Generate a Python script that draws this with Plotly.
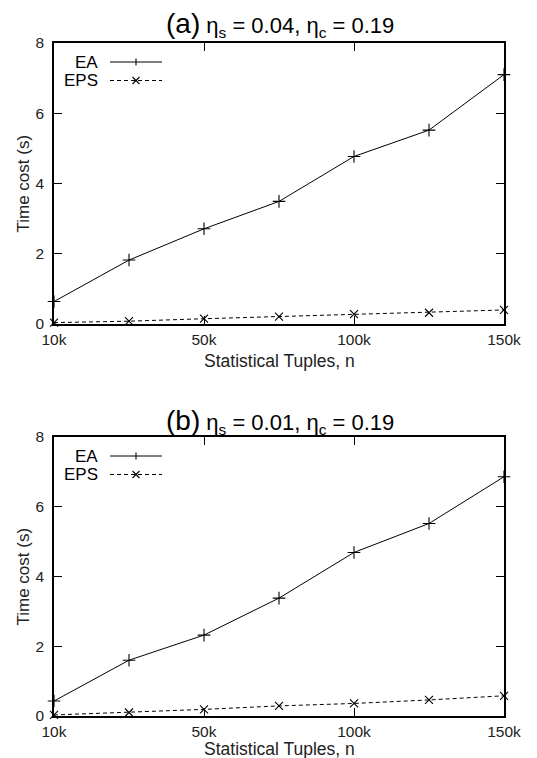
import plotly.graph_objects as go

W, H = 537, 758

# Data
n_labels = ["10k", "25k", "50k", "75k", "100k", "125k", "150k"]
tick_labels = ["10k", "50k", "100k", "150k"]
ea_a = [0.64, 1.82, 2.71, 3.49, 4.77, 5.52, 7.10]
eps_a = [0.04, 0.08, 0.15, 0.21, 0.28, 0.32, 0.40]
ea_b = [0.43, 1.60, 2.32, 3.38, 4.69, 5.52, 6.86]
eps_b = [0.03, 0.10, 0.19, 0.29, 0.36, 0.46, 0.58]
titles = ["(a)", "(b)"]
eta_s = ["0.04", "0.01"]
eta_c = ["0.19", "0.19"]
series_names = ["EA", "EPS"]
x_title = "Statistical Tuples, n"
y_title = "Time cost (s)"

FONT = "Liberation Sans, Arial, Helvetica, sans-serif"
TXT = "#222222"

def px(x):
    return x / W

def py(y):
    return 1 - y / H

# plot area pixel boxes: (left, right, top, bottom), title centre y, x-title centre y
boxes = [(54, 504, 43, 324), (54, 504, 437, 716)]
title_y = [24, 421]
xtitle_y = [361, 749]

fig = go.Figure()
shapes = []
annotations = []

panels = [(ea_a, eps_a), (ea_b, eps_b)]
for i, ((ea, eps), (l, r, t, b)) in enumerate(zip(panels, boxes)):
    xa = "x" if i == 0 else "x2"
    ya = "y" if i == 0 else "y2"
    fig.add_trace(go.Scatter(
        x=n_labels, y=ea, mode="lines+markers", name=series_names[0],
        xaxis=xa, yaxis=ya, showlegend=False, cliponaxis=False,
        line=dict(color="black", width=1),
        marker=dict(symbol="cross-thin-open", size=9, line=dict(color="black", width=1.1)),
    ))
    fig.add_trace(go.Scatter(
        x=n_labels, y=eps, mode="lines+markers", name=series_names[1],
        xaxis=xa, yaxis=ya, showlegend=False, cliponaxis=False,
        line=dict(color="black", width=1, dash="4px,3px"),
        marker=dict(symbol="x-thin-open", size=8, line=dict(color="black", width=1.1)),
    ))

    axis_common = dict(
        showline=True, linecolor="black", linewidth=1.5, mirror="allticks",
        ticks="inside", ticklen=8, tickwidth=1, tickcolor="black",
        showgrid=False, zeroline=False, automargin=False,
        tickfont=dict(family=FONT, size=15.5, color=TXT),
    )
    xkey = "xaxis" if i == 0 else "xaxis2"
    ykey = "yaxis" if i == 0 else "yaxis2"
    fig.update_layout(**{
        xkey: dict(axis_common, type="category", range=[0, 6],
                   tickvals=tick_labels, ticktext=tick_labels,
                   domain=[px(l), px(r)], anchor=ya, ticklabelstandoff=1),
        ykey: dict(axis_common, range=[0, 8], dtick=2, tick0=0,
                   domain=[py(b), py(t)], anchor=xa, ticklabelstandoff=5),
    })

    # Axis titles
    annotations.append(dict(
        xref="paper", yref="paper", x=px((l + r) / 2), y=py(xtitle_y[i]),
        xanchor="center", yanchor="middle", text=x_title, showarrow=False, borderpad=0,
        font=dict(family=FONT, size=17.5, color=TXT),
    ))
    annotations.append(dict(
        xref="paper", yref="paper", x=px(23), y=py((t + b) / 2),
        xanchor="center", yanchor="middle", text=y_title, textangle=-90,
        showarrow=False, borderpad=0,
        font=dict(family=FONT, size=17, color=TXT),
    ))

    # Title
    annotations.append(dict(
        xref="paper", yref="paper", x=px(280), y=py(title_y[i]), xanchor="center", yanchor="middle",
        text=(f"<span style='font-size:28px'>{titles[i]}</span> "
              f"η<sub>s</sub> = {eta_s[i]}, η<sub>c</sub> = {eta_c[i]}"),
        showarrow=False, borderpad=0, font=dict(family=FONT, size=22, color="black"),
    ))

    # Manual gnuplot-style legend (text left, sample right)
    for j, name in enumerate(series_names):
        yy = t + 19 + j * 18.5
        annotations.append(dict(
            xref="paper", yref="paper", x=px(99), y=py(yy), xanchor="right", yanchor="middle",
            text=name, showarrow=False, borderpad=0,
            font=dict(family=FONT, size=17, color="black"),
        ))
        shapes.append(dict(type="line", xref="paper", yref="paper",
                           x0=px(110), x1=px(162), y0=py(yy), y1=py(yy),
                           line=dict(color="black", width=1, dash="solid" if j == 0 else "4px,3px")))
        cx, s = 136, 3.5
        if j == 0:
            shapes.append(dict(type="line", xref="paper", yref="paper",
                               x0=px(cx), x1=px(cx), y0=py(yy - s), y1=py(yy + s),
                               line=dict(color="black", width=1.1)))
        else:
            shapes.append(dict(type="line", xref="paper", yref="paper",
                               x0=px(cx - s), x1=px(cx + s), y0=py(yy - s), y1=py(yy + s),
                               line=dict(color="black", width=1.1)))
            shapes.append(dict(type="line", xref="paper", yref="paper",
                               x0=px(cx - s), x1=px(cx + s), y0=py(yy + s), y1=py(yy - s),
                               line=dict(color="black", width=1.1)))

fig.update_layout(
    width=W, height=H, margin=dict(l=0, r=0, t=0, b=0),
    paper_bgcolor="white", plot_bgcolor="white",
    showlegend=False, shapes=shapes, annotations=annotations,
    font=dict(family=FONT, color=TXT),
)

fig.write_html("out.html")
